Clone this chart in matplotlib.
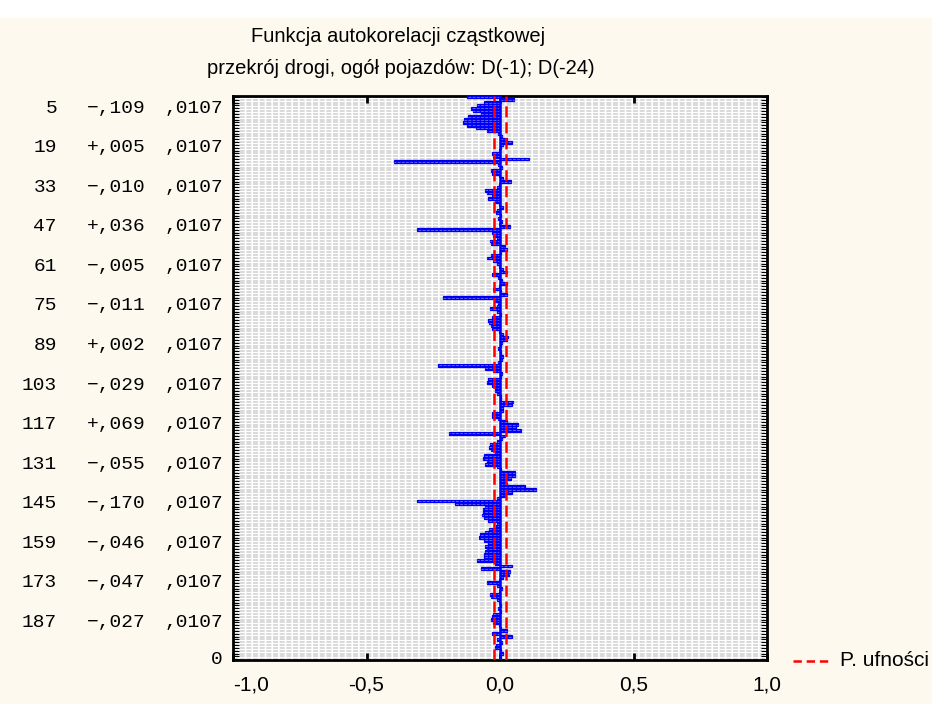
import numpy as np
import matplotlib.pyplot as plt
from matplotlib.transforms import blended_transform_factory
from matplotlib.lines import Line2D
from matplotlib.patches import Rectangle

# opóźnienia i wartości PACF
lagi = np.arange(1, 201)
pacf = [
    -0.125, 0.054, -0.060, -0.085, -0.109, -0.100, -0.070, -0.120, -0.135, -0.140,
    -0.125, -0.090, -0.050, -0.006, 0.006, 0.025, 0.046, 0.012, 0.005, -0.002,
    -0.030, -0.028, 0.109, -0.397, -0.006, 0.006, -0.035, -0.030, -0.003, 0.012,
    0.040, -0.002, -0.010, -0.055, -0.050, -0.030, -0.045, -0.020, -0.005, 0.012,
    -0.012, -0.015, 0.005, -0.008, 0.008, -0.004, 0.036, -0.310, -0.030, -0.028,
    -0.010, -0.036, -0.032, 0.020, 0.025, 0.004, -0.035, -0.050, -0.025, -0.010,
    -0.005, 0.010, 0.025, -0.030, -0.008, 0.006, 0.025, -0.004, -0.025, 0.003,
    0.028, -0.215, -0.020, -0.006, -0.011, -0.036, -0.012, 0.004, -0.030, -0.045,
    -0.042, -0.035, -0.030, -0.005, 0.010, 0.030, 0.028, 0.008, 0.002, -0.006,
    0.005, 0.004, 0.010, 0.006, -0.008, -0.234, -0.055, -0.025, 0.008, 0.004,
    -0.045, -0.050, -0.029, -0.020, -0.020, -0.010, 0.004, 0.003, 0.050, 0.045,
    0.010, 0.012, -0.030, -0.030, -0.006, 0.025, 0.069, 0.060, 0.080, -0.190,
    0.020, 0.008, -0.010, -0.037, -0.040, -0.035, -0.020, -0.060, -0.065, -0.050,
    -0.055, -0.010, 0.004, 0.055, 0.055, 0.040, 0.020, 0.025, 0.095, 0.135,
    0.045, 0.020, -0.012, -0.310, -0.170, -0.055, -0.065, -0.062, -0.068, -0.060,
    -0.045, -0.012, -0.015, -0.040, -0.055, -0.075, -0.080, -0.060, -0.046, -0.055,
    -0.050, -0.055, -0.060, -0.060, -0.085, -0.020, 0.045, -0.070, 0.038, 0.035,
    0.010, -0.005, -0.047, -0.010, 0.008, -0.005, -0.038, -0.035, -0.010, -0.004,
    0.005, -0.006, 0.004, -0.025, -0.030, -0.035, -0.027, -0.004, 0.005, 0.025,
    -0.030, 0.045, -0.010, 0.006, -0.015, -0.018, 0.003, 0.010, 0.005, -0.003,
]
blad_std = 0.0107
lagi_opis = [5, 19, 33, 47, 61, 75, 89, 103, 117, 131, 145, 159, 173, 187]
x_ticki = [-1.0, -0.5, 0.0, 0.5, 1.0]
x_etykiety = ["-1,0", "-0,5", "0,0", "0,5", "1,0"]

granica = 1.96 * blad_std
W, H = 932, 704
tlo = '#fdf9ef'

plt.rcParams['lines.scale_dashes'] = False
fig = plt.figure(figsize=(W / 100, H / 100), dpi=100, facecolor=tlo)
fig.patches.append(Rectangle((0, 1 - 18 / H), 1, 18 / H, transform=fig.transFigure,
                             facecolor='white', edgecolor='none', zorder=0))

ax = fig.add_axes([233 / W, 1 - 660 / H, (767 - 233) / W, (660 - 96) / H])
ax.set_facecolor('white')

# gęsta siatka pozioma
ax.hlines(lagi, -1, 1, colors='#d9d9d9', lw=1.4, linestyles=[(0, (3.6, 1.2))], zorder=1)

# słupki z jaśniejszym paskiem w środku
ax.barh(lagi, pacf, height=1.0, color='#0000ff', edgecolor='#0000f0', lw=0.9, zorder=3)
ax.hlines(lagi, 0, pacf, colors='#6b6bff', lw=0.6, linestyles=[(0, (2, 1))], zorder=3.5)
ax.axvline(0, color='#0000ff', lw=1.8, zorder=3.6)
for g in (-granica, granica):
    ax.axvline(g, color='#ff0000', lw=1.8, ls=(0, (8, 3.5)), zorder=4)

ax.set_xlim(-1, 1)
ax.set_ylim(200.3, 0.68)
ax.set_xticks(x_ticki)
ax.set_xticklabels(x_etykiety, fontfamily='Liberation Sans', fontsize=15)
ax.get_xticklabels()[0].set_ha('left')
ax.tick_params(axis='x', direction='in', top=True, bottom=True, length=5, width=2, pad=11)
ax.set_yticks(lagi)
ax.set_yticklabels([])
ax.tick_params(axis='y', direction='in', left=True, right=True, length=4, width=0.8)
for s in ax.spines.values():
    s.set_linewidth(2)

# etykiety opóźnień: numer, wartość, błąd std.
tr = blended_transform_factory(fig.transFigure, ax.transData)
mono = dict(fontfamily='Liberation Mono', fontsize=14, va='center', transform=tr)
se_txt = ',' + ('%.4f' % blad_std).split('.')[1]
for k in lagi_opis:
    v = pacf[k - 1]
    znak = '+' if v >= 0 else '\u2212'
    txt = znak + (',%03d' % round(abs(v) * 1000))
    fig.text(57 / W, k, str(k), ha='right', **mono)
    fig.text(87 / W, k, txt, ha='left', **mono)
    fig.text(223 / W, k, se_txt, ha='right', **mono)
fig.text(223 / W, 200.3, '0', ha='right', **mono)

fig.text(398 / W, 1 - 37 / H, 'Funkcja autokorelacji cząstkowej', ha='center', va='center',
         fontfamily='Liberation Sans', fontsize=14.5)
fig.text(401 / W, 1 - 68 / H, 'przekrój drogi, ogół pojazdów: D(-1); D(-24)', ha='center',
         va='center', fontfamily='Liberation Sans', fontsize=14.5)

# legenda
fig.add_artist(Line2D([793 / W, 830 / W], [1 - 661 / H, 1 - 661 / H], color='#ff0000',
                      lw=1.8, ls=(0, (6, 3.5)), transform=fig.transFigure))
fig.text(840 / W, 1 - 661 / H, 'P. ufności', ha='left', va='center',
         fontfamily='Liberation Sans', fontsize=15)

fig.savefig('out.png', dpi=100, facecolor=tlo)
